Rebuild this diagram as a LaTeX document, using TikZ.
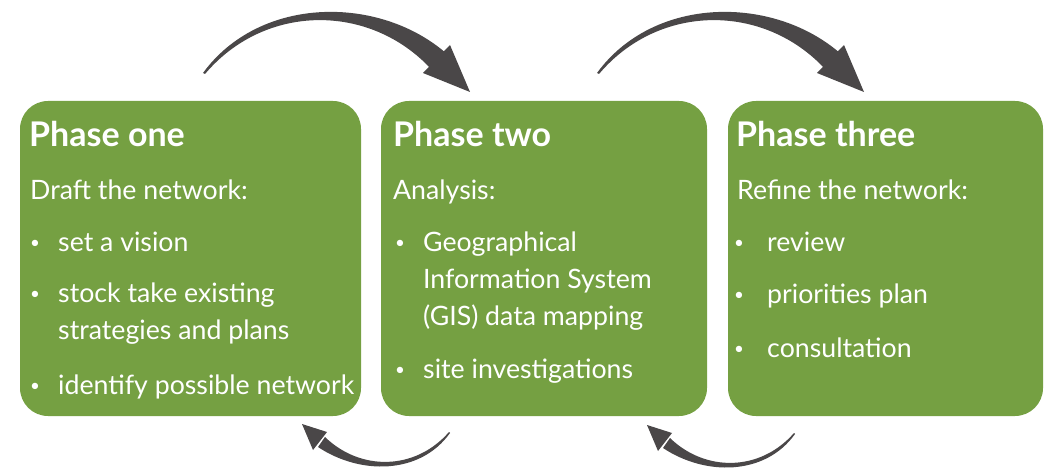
\documentclass[tikz,border=0pt]{standalone}
\usepackage{fontspec}
\setmainfont{Lato}
\definecolor{phasegreen}{RGB}{117,160,66}
\definecolor{arrowgray}{RGB}{74,71,72}
\begin{document}
\begin{tikzpicture}[x=1pt,y=-1pt,
  box/.style={fill=phasegreen, rounded corners=28pt, inner sep=0pt, draw=none},
  ptitle/.style={anchor=base west, text=white, inner sep=0pt, font=\fontsize{34}{38}\selectfont\bfseries},
  pbody/.style={anchor=base west, text=white, inner sep=0pt, font=\fontsize{26.7}{34}\selectfont},
  pbul/.style={anchor=base west, text=white, inner sep=0pt, font=\fontsize{17}{34}\selectfont},
  arr/.style={fill=arrowgray, draw=none}]
\useasboundingbox (0,0) rectangle (1044,470);

% boxes
\node[box, minimum width=341pt, minimum height=315pt] (b1) at (190.5,258.5) {};
\node[box, minimum width=326pt, minimum height=315pt] (b2) at (544,258.5) {};
\node[box, minimum width=315pt, minimum height=315pt] (b3) at (885.5,258.5) {};

% box 1 text
\node[ptitle] (t1) at (29,147) {Phase one};
\node[pbody] (s1) at (30,200) {Draft the network:};
\node[pbul] (u11) at (30,249) {\textbullet};
\node[pbody] (i11) at (58,252) {set a vision};
\node[pbul] (u12) at (30,300) {\textbullet};
\node[pbody] (i12) at (58,303) {stock take existing};
\node[pbody] (i12b) at (58,339) {strategies and plans};
\node[pbul] (u13) at (30,391) {\textbullet};
\node[pbody] (i13) at (58,394) {identify possible network};

% box 2 text
\node[ptitle] (t2) at (393,147) {Phase two};
\node[pbody] (s2) at (393,200) {Analysis:};
\node[pbul] (u21) at (395,249) {\textbullet};
\node[pbody] (i21) at (423,252) {Geographical};
\node[pbody] (i21b) at (423,289) {Information System};
\node[pbody] (i21c) at (423,325) {(GIS) data mapping};
\node[pbul] (u22) at (395,375) {\textbullet};
\node[pbody] (i22) at (423,378) {site investigations};

% box 3 text
\node[ptitle] (t3) at (736,147) {Phase three};
\node[pbody] (s3) at (737,200) {Refine the network:};
\node[pbul] (u31) at (734,249) {\textbullet};
\node[pbody] (i31) at (767,252) {review};
\node[pbul] (u32) at (734,301) {\textbullet};
\node[pbody] (i32) at (767,304) {priorities plan};
\node[pbul] (u33) at (734,354) {\textbullet};
\node[pbody] (i33) at (767,357) {consultation};

% forward arrows (top)
\foreach \dx/\nm in {0/fa, 394/fb} {
  \begin{scope}[xshift=\dx]
    \coordinate (\nm-tail) at (203,73);
    \coordinate (\nm-tip) at (470,92);
    \fill[arr] (\nm-tail) .. controls (260,-5) and (380,-5) .. (447,54)
      -- (431,69) .. controls (370,3) and (265,3) .. (205,74) -- cycle;
    \fill[arr] (450,45) -- (\nm-tip) -- (423,73) -- cycle;
  \end{scope}
}

% backward arrows (bottom)
\foreach \dx/\dy/\nm in {0/0/ba, 345/1/bb} {
  \begin{scope}[xshift=\dx, yshift=-\dy]
    \coordinate (\nm-tail) at (450,433);
    \coordinate (\nm-tip) at (302,424);
    \fill[arr] (\nm-tail) .. controls (420,475) and (360,475) .. (318,447)
      -- (325,437) .. controls (360,471) and (415,471) .. (449,432) -- cycle;
    \fill[arr] (327,432) -- (\nm-tip) -- (313,450) -- cycle;
  \end{scope}
}
\end{tikzpicture}
\end{document}
